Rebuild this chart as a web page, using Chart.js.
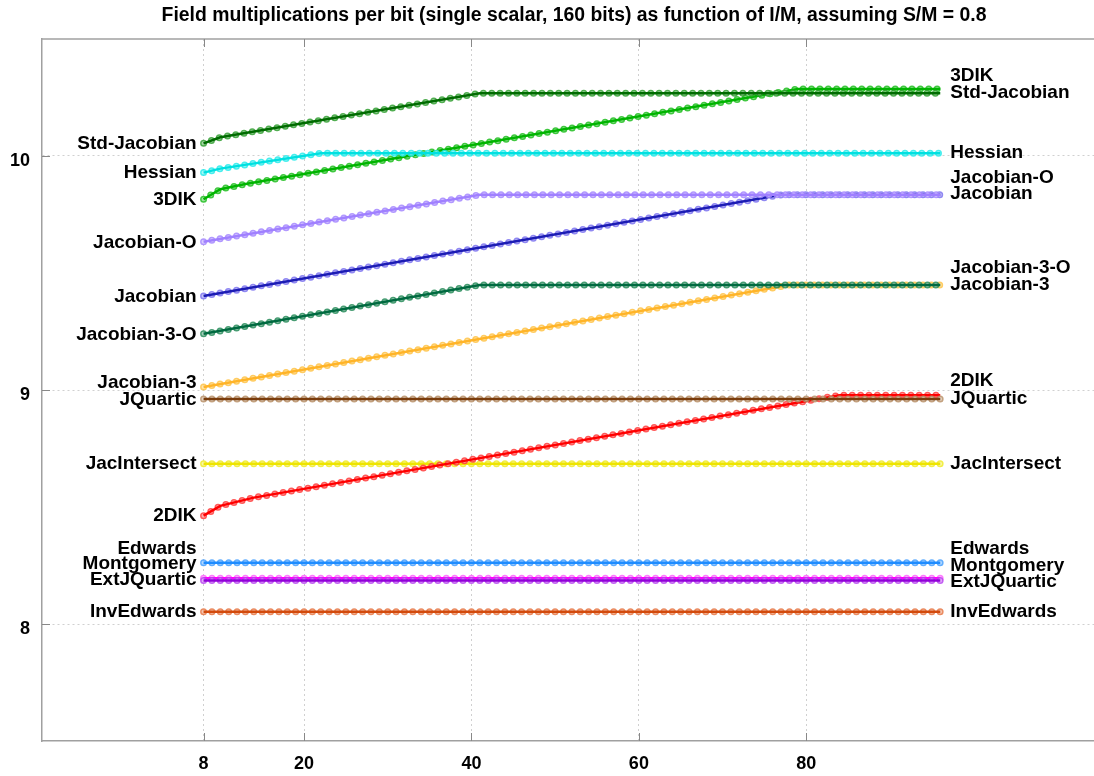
<!DOCTYPE html>
<html>
<head>
<meta charset="utf-8">
<script src="https://cdn.jsdelivr.net/npm/chart.js@4.4.0/dist/chart.umd.min.js"></script>
<style>
    html, body { margin: 0; padding: 0; background: #fff; overflow: hidden; }
    #wrap { position: absolute; left: 0; top: 0; width: 1106px; height: 776px; }
</style>
</head>
<body>
<div id="wrap"><canvas id="chart"></canvas></div>
<script>
const TITLE = 'Field multiplications per bit (single scalar, 160 bits) as function of I/M, assuming S/M = 0.8';

const seriesNames = ['Std-Jacobian', 'Hessian', '3DIK', 'Jacobian-O', 'Jacobian', 'Jacobian-3-O', 'Jacobian-3',
    'JQuartic', '2DIK', 'JacIntersect', 'Edwards', 'Montgomery', 'ExtJQuartic', 'InvEdwards'];

// [I/M, multiplications per bit] at the corners of each curve
const stdJacobian = [[8, 10.054], [10, 10.080], [41, 10.268], [96, 10.268]];
const hessian = [[8, 9.929], [10, 9.946], [22, 10.012], [96, 10.012]];
const threeDik = [[8, 9.815], [10, 9.858], [13, 9.880], [79, 10.286], [96, 10.286]];
const jacobianO = [[8, 9.634], [41, 9.834], [96, 9.834]];
const jacobian = [[8, 9.402], [77, 9.834], [96, 9.834]];
const jacobian3O = [[8, 9.240], [41, 9.449], [96, 9.449]];
const jacobian3 = [[8, 9.013], [78, 9.449], [96, 9.449]];
const jQuartic = [[8, 8.962], [96, 8.962]];
const twoDik = [[8, 8.463], [10, 8.505], [14, 8.540], [84, 8.978], [96, 8.978]];
const jacIntersect = [[8, 8.685], [96, 8.685]];
const edwards = [[8, 8.262], [96, 8.262]];
const montgomery = [[8, 8.186], [96, 8.186]];
const extJQuartic = [[8, 8.195], [96, 8.195]];
const invEdwards = [[8, 8.052], [96, 8.052]];

const seriesData = [stdJacobian, hessian, threeDik, jacobianO, jacobian, jacobian3O, jacobian3,
    jQuartic, twoDik, jacIntersect, edwards, montgomery, extJQuartic, invEdwards];

// where the name tags sit on the y axis, left and right end
const leftLabelAt = [10.061, 9.933, 9.821, 9.637, 9.406, 9.244, 9.039, 8.967, 8.469, 8.690, 8.330, 8.262, 8.194, 8.061];
const rightLabelAt = [10.275, 10.022, 10.350, 9.915, 9.844, 9.530, 9.458, 8.969, 9.045, 8.692, 8.330, 8.257, 8.186, 8.058];

const xTicks = [8, 20, 40, 60, 80];
const yTicks = [8, 9, 10];

const lineColors = ['#006b00', '#00e0e0', '#00b400', '#a080ff', '#1c1cb4', '#006a40', '#ffb428',
    '#7a3c0c', '#ff0000', '#eee400', '#1e8cff', '#9000d8', '#ff00ff', '#d24a0c'];
const markColors = ['rgba(50,160,50,0.85)', 'rgba(40,235,235,0.85)', 'rgba(30,190,30,0.85)', 'rgba(165,135,255,0.85)',
    'rgba(125,115,240,0.85)', 'rgba(40,140,90,0.85)', 'rgba(255,195,70,0.85)', 'rgba(185,145,105,0.85)',
    'rgba(255,60,60,0.85)', 'rgba(240,235,40,0.85)', 'rgba(70,160,255,0.85)', 'rgba(185,70,240,0.85)',
    'rgba(255,100,255,0.85)', 'rgba(230,120,70,0.85)'];

const FONT = '"Liberation Sans", Arial, Helvetica, sans-serif';
const DOT_STEP = 8.37;

function toPoints(pairs) {
    return pairs.map(([x, y]) => ({ x, y }));
}

const datasets = [];
seriesData.forEach((pairs, i) => {
    const common = { data: toPoints(pairs), pointRadius: 0 };
    datasets.push({ ...common, label: seriesNames[i], borderColor: lineColors[i], borderWidth: 2.5, order: 3 * i });
    // open circle markers: a coloured dot with a paler centre
    datasets.push({
        ...common,
        label: seriesNames[i] + ' fill',
        borderColor: 'rgba(255,255,255,0.5)',
        borderWidth: 4,
        borderDash: [0, DOT_STEP],
        borderCapStyle: 'round',
        order: 3 * i + 1
    });
    datasets.push({
        ...common,
        label: seriesNames[i] + ' ring',
        borderColor: markColors[i],
        borderWidth: 7,
        borderDash: [0, DOT_STEP],
        borderCapStyle: 'round',
        order: 3 * i + 2
    });
});

const framePlugin = {
    id: 'frame',
    afterDraw(chart) {
        const { ctx, chartArea: a, scales } = chart;
        ctx.save();
        ctx.strokeStyle = '#a0a0a0';
        ctx.lineWidth = 1.5;
        ctx.beginPath();
        ctx.moveTo(a.left, a.top);
        ctx.lineTo(a.right, a.top);
        ctx.stroke();
        ctx.lineWidth = 1;
        ctx.strokeStyle = '#888';
        ctx.beginPath();
        xTicks.forEach((v) => {
            const px = Math.round(scales.x.getPixelForValue(v)) + 0.5;
            ctx.moveTo(px, a.bottom);
            ctx.lineTo(px, a.bottom - 8);
            ctx.moveTo(px, a.top);
            ctx.lineTo(px, a.top + 8);
        });
        yTicks.forEach((v) => {
            const py = Math.round(scales.y.getPixelForValue(v)) + 0.5;
            ctx.moveTo(a.left, py);
            ctx.lineTo(a.left + 8, py);
        });
        ctx.stroke();

        ctx.fillStyle = '#000';
        ctx.font = 'bold 19.4px ' + FONT;
        ctx.textAlign = 'center';
        ctx.textBaseline = 'alphabetic';
        ctx.fillText(TITLE, (a.left + a.right) / 2, 21);
        ctx.restore();
    }
};

const namesPlugin = {
    id: 'names',
    afterDatasetsDraw(chart) {
        const { ctx, scales } = chart;
        ctx.save();
        ctx.fillStyle = '#000';
        ctx.font = 'bold 19px ' + FONT;
        ctx.textBaseline = 'alphabetic';
        seriesData.forEach((pairs, i) => {
            const first = pairs[0][0];
            const last = pairs[pairs.length - 1][0];
            ctx.textAlign = 'right';
            ctx.fillText(seriesNames[i], scales.x.getPixelForValue(first) - 7, scales.y.getPixelForValue(leftLabelAt[i]) + 6.8);
            ctx.textAlign = 'left';
            ctx.fillText(seriesNames[i], scales.x.getPixelForValue(last) + 10, scales.y.getPixelForValue(rightLabelAt[i]) + 6.8);
        });
        ctx.restore();
    }
};

new Chart(document.getElementById('chart'), {
    type: 'line',
    data: { datasets },
    options: {
        responsive: true,
        maintainAspectRatio: false,
        animation: false,
        layout: { padding: { top: 39, left: 0, right: 0, bottom: 0 } },
        plugins: {
            legend: { display: false },
            tooltip: { enabled: false },
            title: { display: false }
        },
        scales: {
            x: {
                type: 'linear',
                min: -11.3,
                max: 115.8,
                afterBuildTicks: (scale) => { scale.ticks = xTicks.map((v) => ({ value: v })); },
                afterFit: (scale) => { scale.height = 35; },
                grid: { color: '#d0d0d0', drawTicks: false, lineWidth: 1 },
                border: { color: '#a0a0a0', width: 1.5, dash: [2, 3] },
                ticks: {
                    color: '#000',
                    font: { family: FONT, size: 18, weight: 'bold' },
                    padding: 12,
                    maxRotation: 0,
                    autoSkip: false
                }
            },
            y: {
                type: 'linear',
                min: 7.5,
                max: 10.5,
                afterBuildTicks: (scale) => { scale.ticks = yTicks.map((v) => ({ value: v })); },
                afterFit: (scale) => { scale.width = 42; },
                grid: { color: '#d0d0d0', drawTicks: false, lineWidth: 1 },
                border: { color: '#a0a0a0', width: 1.5, dash: [2, 3] },
                ticks: {
                    color: '#000',
                    font: { family: FONT, size: 18, weight: 'bold' },
                    padding: 12,
                    labelOffset: 5
                }
            }
        }
    },
    plugins: [framePlugin, namesPlugin]
});
</script>
</body>
</html>
